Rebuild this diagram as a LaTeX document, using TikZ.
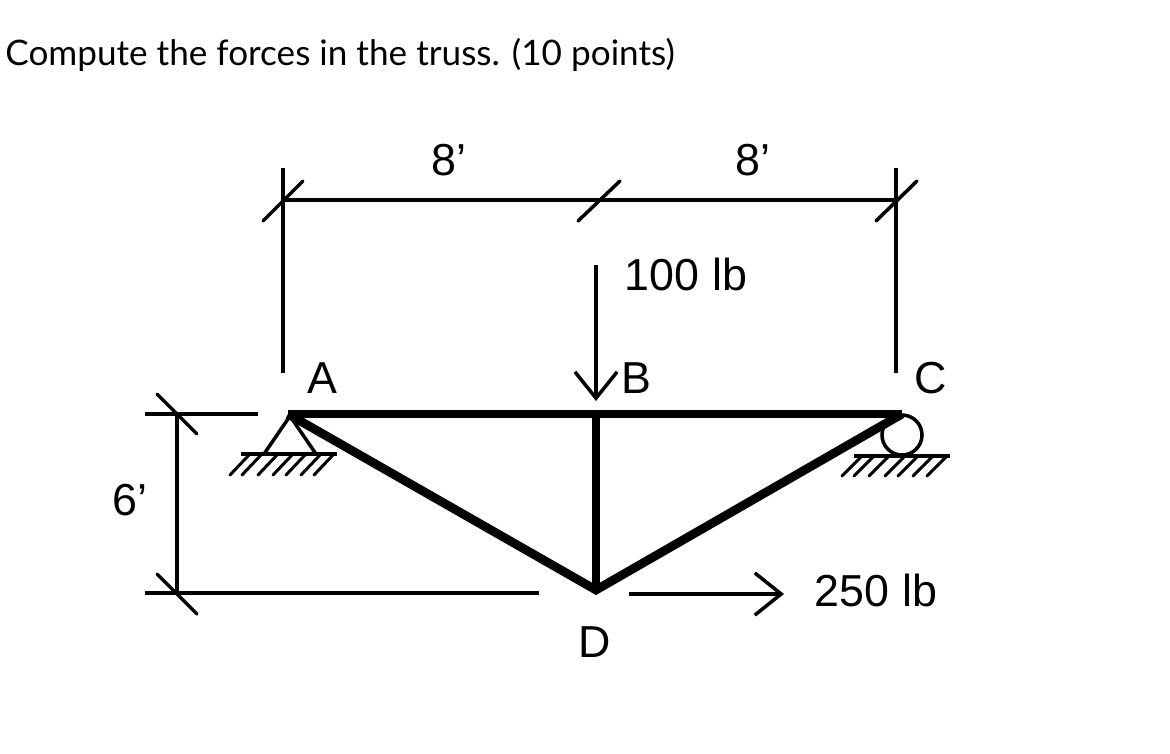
\documentclass[tikz,border=0pt]{standalone}
\usepackage{fontspec}
\setmainfont{Liberation Sans}
\newfontfamily\titlefont{Lato}
\usetikzlibrary{arrows.meta}
\tikzset{
  thinline/.style={line width=2pt},
  member/.style={line width=5pt},
  hatch/.style={line width=1.7pt,line cap=round},
  loadarrow/.style={thinline,-{Straight Barb[length=15pt,width=24pt,line width=2pt]}},
  lbl/.style={font=\fontsize{25.5}{28}\selectfont,inner sep=0pt}
}
\begin{document}
\begin{tikzpicture}[x=0.02cm,y=-0.02cm]
\useasboundingbox (0,0) rectangle (1170,754);
\node[anchor=west,inner sep=0pt,font=\titlefont\fontsize{20}{24}\selectfont] (title) at (5,55) {Compute the forces in the truss. (10 points)};
% joints
\coordinate (A) at (288,414);
\coordinate (B) at (596,414);
\coordinate (C) at (902,414);
\coordinate (D) at (596,590);
\draw[member,line cap=butt] (A) -- (C);
\draw[member] (B) -- (D);
\draw[member,line join=miter] (A) -- (D) -- (C);
% dimensions
\coordinate (topL) at (283,200);
\coordinate (topM) at (598,200);
\coordinate (topR) at (896,200);
\draw[thinline] (topL) -- (topR);
\draw[thinline] (283,168) -- (283,373);
\draw[thinline] (896,168) -- (896,373);
\draw[thinline,line cap=round] (263,221) -- (303,181);
\draw[thinline,line cap=round] (578,221) -- (620,181);
\draw[thinline,line cap=round] (876,221) -- (917,181);
\coordinate (sideT) at (177,414);
\coordinate (sideB) at (177,593);
\draw[thinline] (sideT) -- (sideB);
\draw[thinline] (145,414) -- (258,414);
\draw[thinline] (145,593) -- (539,593);
\draw[thinline,line cap=round] (157,394) -- (197,434);
\draw[thinline,line cap=round] (157,574) -- (197,614);
% loads
\draw[loadarrow] (596,265) -- (596,401);
\draw[loadarrow] (629,594) -- (784,594);
% pin at A
\draw[thinline] (264,454) -- (290,416) -- (316,454);
\draw[thinline] (241,454) -- (337,454);
\foreach \x in {230,242,258,273,286,301,314} \draw[hatch] (\x,475) -- (\x+19,455);
% roller at C
\draw[thinline] (902,435) circle (20);
\draw[thinline] (854,456) -- (950,456);
\foreach \x in {842,854,869,885,898,913,927} \draw[hatch] (\x,476) -- (\x+19,457);
% labels
\node[lbl] (dimL) at (449,160) {8'};
\node[lbl] (dimR) at (753,160) {8'};
\node[lbl] (dimS) at (130,500) {6'};
\node[lbl] (loadB) at (686,274) {100 lb};
\node[lbl] (loadD) at (876,590) {250 lb};
\node[lbl] (lblA) at (322,378) {A};
\node[lbl] (lblB) at (636,378) {B};
\node[lbl] (lblC) at (931,378) {C};
\node[lbl] (lblD) at (595,642) {D};
\end{tikzpicture}
\end{document}
